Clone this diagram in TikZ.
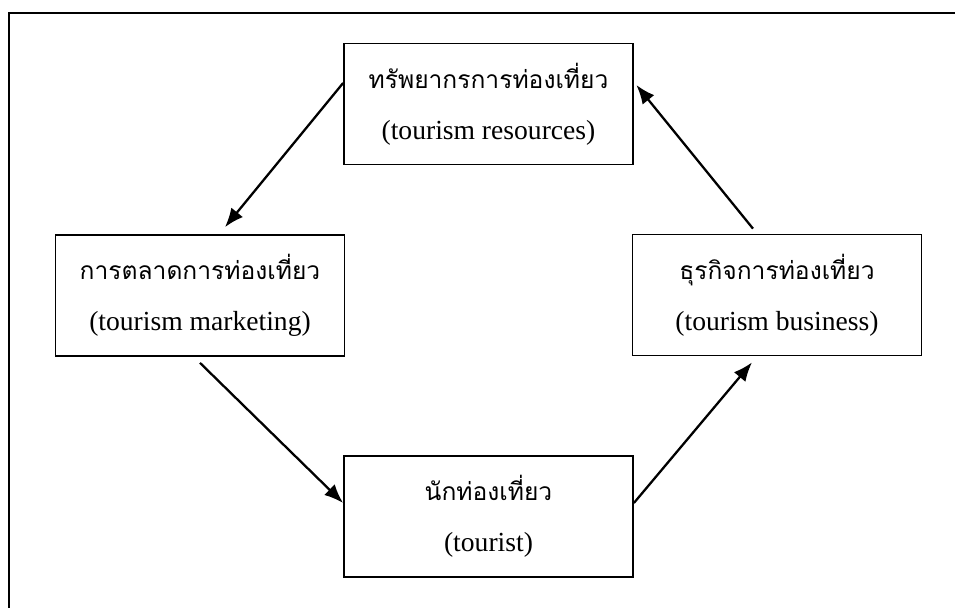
\documentclass[tikz,border=0pt]{standalone}
\usepackage{fontspec}
\setmainfont{Liberation Serif}
\newfontfamily\thaifont[Script=Thai]{Loma}
\usepackage{tikz}
\usetikzlibrary{arrows.meta}
\tikzset{stage/.style={draw=black, line width=1pt, minimum width=5.78cm, minimum height=2.42cm,
   align=center, inner sep=0pt, font=\fontsize{15.7}{29}\selectfont},
 flow/.style={line width=1.3pt, -{Latex[length=0.38cm, width=0.3cm]}},
 frame/.style={line width=1.6pt},
 }
\newcommand{\stagetext}[2]{{\thaifont\fontsize{14}{29}\selectfont #1}\\#2}

\begin{document}
\begin{tikzpicture}
        \useasboundingbox (0, 0) rectangle (19.1, -12.14);
        \clip (0, 0) rectangle (19.1, -12.14);
        \draw[frame] (0.18, -12.5) -- (0.18, -0.26) -- (19.5, -0.26);

        \node[stage] (res) at (9.77, -2.08) {\stagetext{ทรัพยากรการท่องเที่ยว}{(tourism resources)}};
        \node[stage] (mkt) at (4.0, -5.91) {\stagetext{การตลาดการท่องเที่ยว}{(tourism marketing)}};
        \node[stage] (biz) at (15.54, -5.9) {\stagetext{ธุรกิจการท่องเที่ยว}{(tourism business)}};
        \node[stage] (tourist) at (9.77, -10.33) {\stagetext{นักท่องเที่ยว}{(tourist)}};

        \draw[flow] ([yshift=0.42cm]res.west) -- ([xshift=0.5cm, yshift=0.14cm]mkt.north);
        \draw[flow] ([yshift=-0.12cm]mkt.south) -- ([yshift=0.27cm]tourist.west);
        \draw[flow] ([yshift=0.27cm]tourist.east) -- ([xshift=-0.5cm, yshift=-0.12cm]biz.south);
        \draw[flow] ([xshift=-0.48cm, yshift=0.1cm]biz.north) -- ([xshift=0.05cm, yshift=0.38cm]res.east);
    \end{tikzpicture}
\end{document}
